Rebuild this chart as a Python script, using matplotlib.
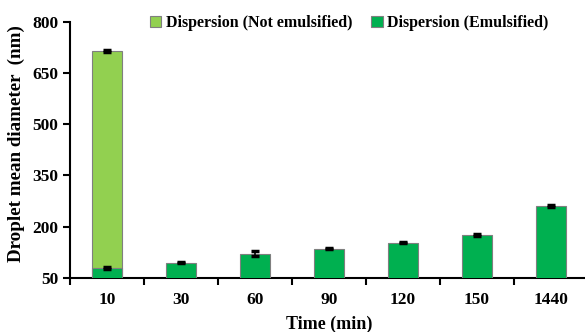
import matplotlib
matplotlib.use("Agg")
import matplotlib.pyplot as plt
import numpy as np

categories = ["10", "30", "60", "90", "120", "150", "1440"]
emulsified = [79, 95, 121, 136, 153, 176, 262]
emulsified_err = [3, 2, 7, 1, 1.5, 4, 3]
not_emulsified_total = [715, None, None, None, None, None, None]
not_emulsified_err = [3]

plt.rcParams['font.family'] = ['Liberation Serif', 'DejaVu Serif']
plt.rcParams['font.weight'] = 'bold'

fig = plt.figure(figsize=(5.85, 3.32), dpi=100)
ax = fig.add_axes([0.120, 0.163, 0.885, 0.771])

x = np.arange(len(categories))
w = 0.4
light = '#92D050'
dark = '#00B050'
edge = '#7f7f7f'

ax.bar(x[0], not_emulsified_total[0], width=w, color=light, edgecolor=edge, linewidth=0.8,
       yerr=not_emulsified_err[0], error_kw=dict(ecolor='black', elinewidth=1.2, capsize=3, capthick=2.5),
       label='Dispersion (Not emulsified)', zorder=2)
ax.bar(x, emulsified, width=w, color=dark, edgecolor=edge, linewidth=0.8,
       yerr=emulsified_err, error_kw=dict(ecolor='black', elinewidth=1.2, capsize=3, capthick=2.5),
       label='Dispersion (Emulsified)', zorder=3)

ax.set_ylim(50, 800)
ax.set_yticks([50, 200, 350, 500, 650, 800])
ax.set_xlim(-0.5, 6.5)
ax.set_xticks(x)
ax.set_xticklabels(categories, fontsize=12.5, fontweight='bold')
ax.set_xticks(np.arange(-0.5, 6.6, 1), minor=True)
ax.tick_params(axis='x', which='major', length=0, pad=10)
ax.tick_params(axis='x', which='minor', length=5, width=1.5, direction='out')
ax.tick_params(axis='y', labelsize=12.5, length=5, width=1.5, direction='out')
for lab in ax.get_yticklabels():
    lab.set_fontweight('bold')

for s in ['top', 'right']:
    ax.spines[s].set_visible(False)
ax.spines['left'].set_linewidth(1.5)
ax.spines['bottom'].set_linewidth(1.5)

ax.set_xlabel('Time (min)', fontsize=13, fontweight='bold', labelpad=6)
ax.set_ylabel('Droplet mean diameter  (nm)', fontsize=13.7, fontweight='bold', labelpad=3)
ax.yaxis.set_label_coords(-0.088, 0.525)

fig.legend(loc='center', bbox_to_anchor=(0.597, 0.93), ncol=2, frameon=False,
           handlelength=0.7, handleheight=0.7, handletextpad=0.3,
           columnspacing=1.2, prop={'weight': 'bold', 'size': 11.5})

fig.savefig('out.png', dpi=100)
